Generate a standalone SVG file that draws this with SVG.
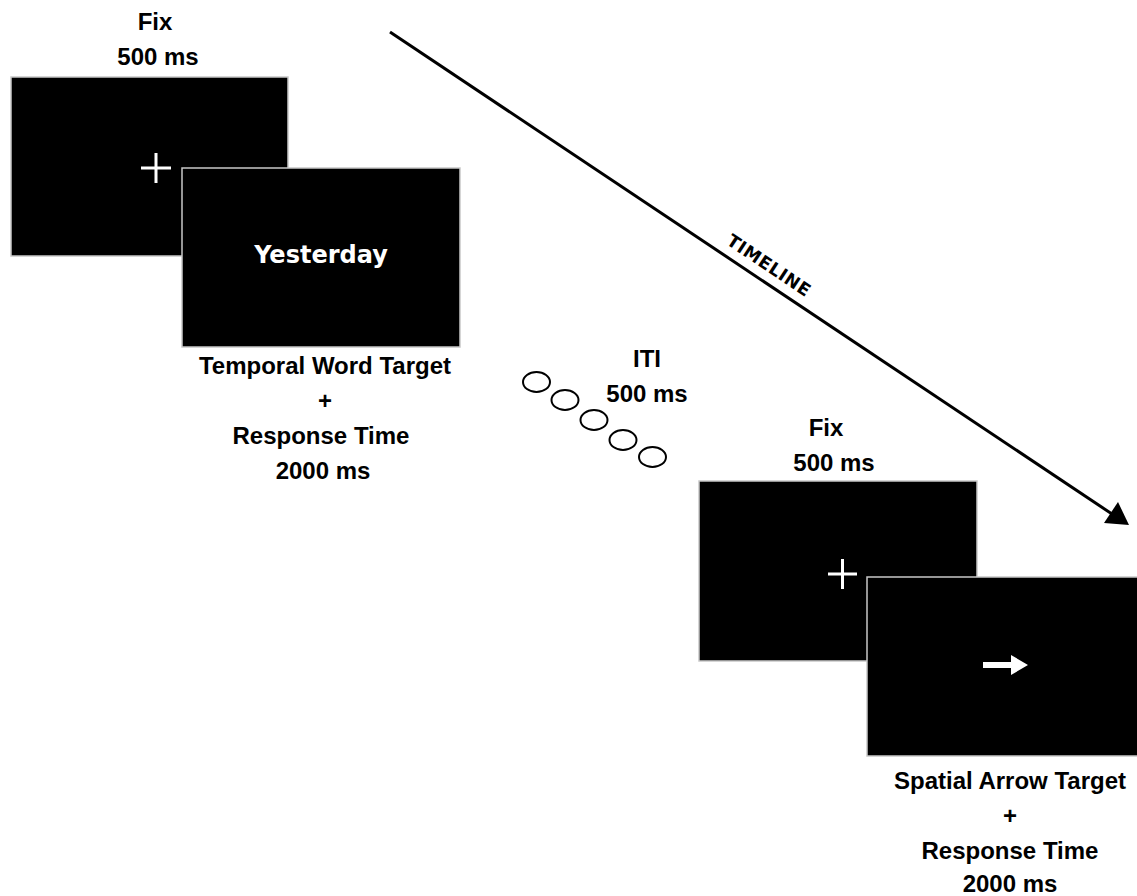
<svg xmlns="http://www.w3.org/2000/svg" width="1137" height="896" viewBox="0 0 1137 896">
<style>
.screen{fill:#000;stroke:#c8c8c8;stroke-width:1.5}
.lbl{font-family:"Liberation Sans",Arial,sans-serif;font-weight:bold;font-size:24px;fill:#000;text-anchor:middle}
.cross{stroke:#fff;stroke-width:3;fill:none}
.dot{fill:#fff;stroke:#000;stroke-width:2}
</style>
<rect width="1137" height="896" fill="#fff"/>
<g id="connectors">
<line x1="390" y1="32" x2="1112" y2="514" stroke="#000" stroke-width="3"/>
<polygon points="1129,525 1104,523 1118,502" fill="#000"/>
<text x="765.7" y="270.5" transform="rotate(33.7 765.7 270.5)" font-family="'DejaVu Sans',Verdana,sans-serif" font-weight="bold" font-size="17.5px" letter-spacing="0.6" text-anchor="middle" fill="#000">TIMELINE</text>
</g>
<g id="fix1">
<text class="lbl" x="155" y="30">Fix</text>
<text class="lbl" x="158" y="65">500 ms</text>
<rect class="screen" x="11" y="77" width="277" height="179"/>
<path class="cross" d="M141 168H171M156 153V183"/>
</g>
<g id="target1">
<rect class="screen" x="182" y="168" width="278" height="179"/>
<text x="321" y="263" font-family="'DejaVu Sans',Verdana,sans-serif" font-weight="bold" font-size="24px" fill="#fff" text-anchor="middle">Yesterday</text>
<text class="lbl" x="325" y="374">Temporal Word Target</text>
<text class="lbl" x="325" y="409">+</text>
<text class="lbl" x="321" y="444">Response Time</text>
<text class="lbl" x="323" y="479">2000 ms</text>
</g>
<g id="iti">
<ellipse class="dot" cx="536.5" cy="382" rx="13.5" ry="10"/>
<ellipse class="dot" cx="565" cy="400" rx="13.5" ry="10"/>
<ellipse class="dot" cx="594" cy="420" rx="13.5" ry="10"/>
<ellipse class="dot" cx="623" cy="440" rx="13.5" ry="10"/>
<ellipse class="dot" cx="652.5" cy="457" rx="13.5" ry="10"/>
<text class="lbl" x="647" y="367">ITI</text>
<text class="lbl" x="647" y="402">500 ms</text>
</g>
<g id="fix2">
<text class="lbl" x="826" y="436">Fix</text>
<text class="lbl" x="834" y="471">500 ms</text>
<rect class="screen" x="699" y="481" width="278" height="180"/>
<path class="cross" d="M828 574H857M842.5 559V589"/>
</g>
<g id="target2">
<rect class="screen" x="867" y="577" width="280" height="179"/>
<path d="M983 662H1011V655L1028 665L1011 675V668H983Z" fill="#fff"/>
<text class="lbl" x="1010" y="789">Spatial Arrow Target</text>
<text class="lbl" x="1010" y="824">+</text>
<text class="lbl" x="1010" y="859">Response Time</text>
<text class="lbl" x="1010" y="892">2000 ms</text>
</g>
</svg>
